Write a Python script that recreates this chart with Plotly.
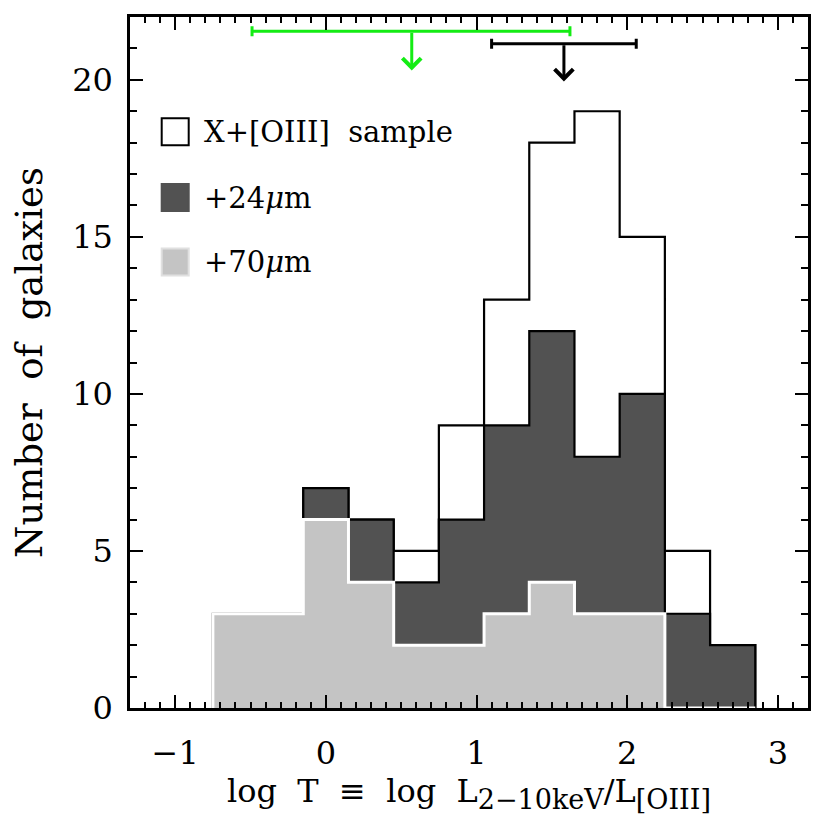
import plotly.graph_objects as go

# histogram bins (log T), width 0.3
bin_edges = [-0.75, -0.45, -0.15, 0.15, 0.45, 0.75, 1.05, 1.35, 1.65, 1.95, 2.25, 2.55, 2.85]
n_total = [3, 3, 7, 6, 5, 9, 13, 18, 19, 15, 5, 2]
n_24um = [3, 3, 7, 6, 4, 6, 9, 12, 8, 10, 3, 2]
n_70um = [3, 3, 6, 4, 2, 2, 3, 4, 3, 3, 0, 0]

# upper-limit markers at the top: (center, low, high, bar y, arrow tip y)
lim_green = (0.57, -0.49, 1.62, 21.55, 20.3)
lim_black = (1.58, 1.10, 2.06, 21.15, 19.95)

legend_labels = ["X+[OIII]\u00a0 sample", "+24<i>\u03bc</i>m", "+70<i>\u03bc</i>m"]
legend_y = [18.35, 16.25, 14.2]

FONT = "DejaVu Serif"


def step_xy(edges, counts):
    xs = [edges[0]] + list(edges)
    ys = [0] + list(counts) + [0]
    return xs, ys


fig = go.Figure()

for counts, fillc, linec, lw in [(n_total, "white", "black", 2.2),
                                 (n_24um, "#525252", "black", 2.2),
                                 (n_70um, "#c4c4c4", "white", 3)]:
    xs, ys = step_xy(bin_edges, counts)
    fig.add_trace(go.Scatter(x=xs, y=ys, mode="lines", line=dict(shape="hv", color=linec, width=lw),
                             fill="tozeroy", fillcolor=fillc, showlegend=False, hoverinfo="skip"))

for lim, col in [(lim_green, "#14ec14"), (lim_black, "black")]:
    c, lo, hi, yb, tip = lim
    fig.add_trace(go.Scatter(x=[c], y=[yb], mode="markers", marker=dict(size=1, color=col),
                             error_x=dict(type="data", symmetric=False, array=[hi - c], arrayminus=[c - lo],
                                          color=col, thickness=3, width=5),
                             showlegend=False, hoverinfo="skip"))
    fig.add_annotation(x=c, y=tip, ax=c, ay=yb, xref="x", yref="y", axref="x", ayref="y",
                       text="", showarrow=True, arrowhead=4, arrowsize=1.2, arrowwidth=3, arrowcolor=col)

# legend boxes
fig.add_trace(go.Scatter(x=[-1.0, -1.0, -1.0], y=legend_y, mode="markers",
                         marker=dict(symbol="square", size=27,
                                     color=["white", "#525252", "#c4c4c4"],
                                     line=dict(color=["black", "#525252", "#e0e0e0"], width=2)),
                         showlegend=False, hoverinfo="skip"))
for lab, yy in zip(legend_labels, legend_y):
    fig.add_annotation(x=-0.82, y=yy, xref="x", yref="y", text=lab, showarrow=False,
                       xanchor="left", yanchor="middle", font=dict(family=FONT, size=29, color="black"))

axis_common = dict(showline=True, linecolor="black", linewidth=2.5, mirror="ticks", ticks="inside",
                   tickcolor="black", tickwidth=2, ticklen=13, showgrid=False, zeroline=False,
                   tickfont=dict(family=FONT, size=32, color="black"))

sub_style = '<span style="font-size:27px">'
x_title = ("log\u00a0 T\u00a0 \u2261\u00a0 log\u00a0 L<sub>" + sub_style + "2\u221210keV</span></sub>/L<sub>"
           + sub_style + "[OIII]</span></sub>")

fig.update_xaxes(range=[-1.3, 3.2], tick0=0, dtick=1, ticklabelstandoff=15,
                 minor=dict(dtick=0.1, ticks="inside", ticklen=6, tickwidth=2, tickcolor="black"),
                 title=dict(text=x_title, font=dict(family=FONT, size=32, color="black"), standoff=0),
                 **axis_common)
fig.update_yaxes(range=[0, 22], tick0=0, dtick=5, ticklabelstandoff=8,
                 minor=dict(dtick=1, ticks="inside", ticklen=7, tickwidth=2, tickcolor="black"),
                 title=dict(text="Number\u00a0 of\u00a0 galaxies", font=dict(family=FONT, size=37, color="black"),
                            standoff=20),
                 **axis_common)

# page body has an 8px margin, so the figure is 822px and offset accordingly
fig.update_layout(width=822, height=822, margin=dict(l=122, r=22, t=9, b=122, autoexpand=False),
                  plot_bgcolor="white", paper_bgcolor="white", showlegend=False)

fig.write_html("out.html")
